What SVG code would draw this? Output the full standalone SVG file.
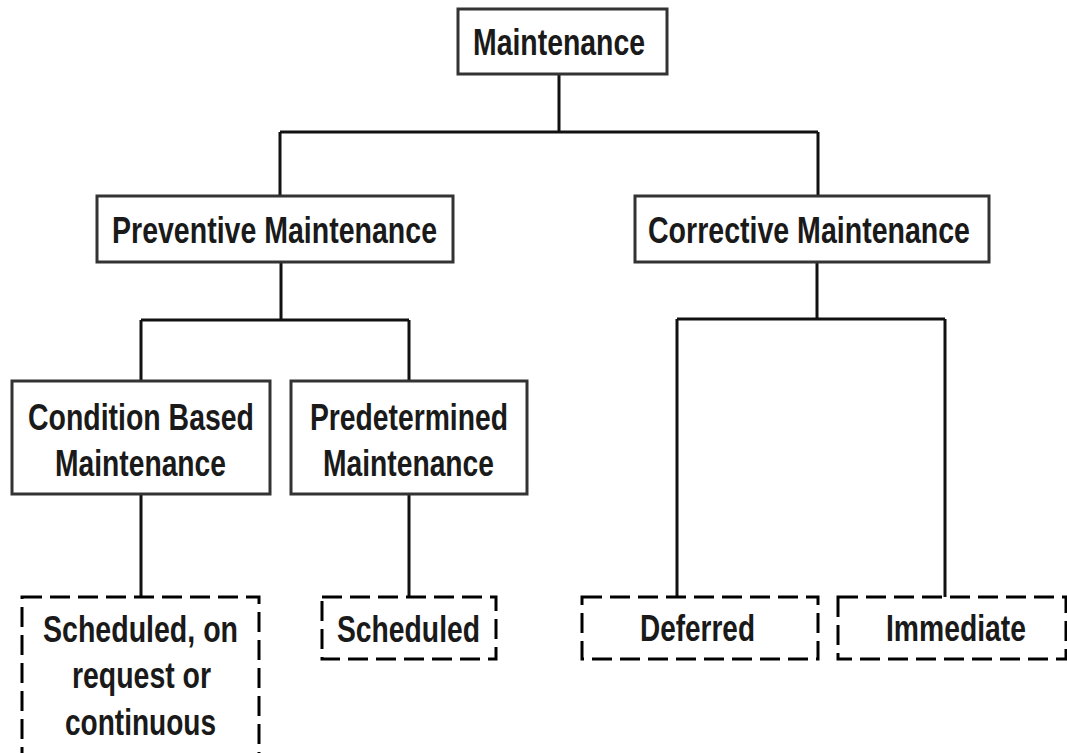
<svg xmlns="http://www.w3.org/2000/svg" width="1067" height="753" viewBox="0 0 1067 753">
<style>
.box{fill:#fff;stroke:#333;stroke-width:3}
.dbox{fill:#fff;stroke:#000;stroke-width:3;stroke-dasharray:20 8}
.ln{fill:none;stroke:#111;stroke-width:3}
text{font-family:"Liberation Sans",Arial,sans-serif;font-weight:bold;font-size:37px;fill:#1a1a1a;text-anchor:start}
</style>
<rect width="1067" height="753" fill="#fff"/>
<g id="connectors">
<path class="ln" d="M559 74V132M280 132H818M280 132V196M818 132V196"/>
<path class="ln" d="M281 262V320M141 320H409M141 320V381M409 320V381"/>
<path class="ln" d="M817 262V319M677 319H945M677 319V597M945 319V597"/>
<path class="ln" d="M141 494V597M409 494V597"/>
</g>
<g id="n-maintenance">
<rect class="box" x="458" y="9" width="209" height="65"/>
<text x="473" y="55" textLength="172" lengthAdjust="spacingAndGlyphs">Maintenance</text>
</g>
<g id="n-preventive">
<rect class="box" x="97" y="196" width="356" height="66"/>
<text x="112" y="243" textLength="325" lengthAdjust="spacingAndGlyphs">Preventive Maintenance</text>
</g>
<g id="n-corrective">
<rect class="box" x="635" y="196" width="354" height="66"/>
<text x="648" y="243" textLength="322" lengthAdjust="spacingAndGlyphs">Corrective Maintenance</text>
</g>
<g id="n-condition">
<rect class="box" x="12" y="381" width="258" height="113"/>
<text x="28" y="430" textLength="226" lengthAdjust="spacingAndGlyphs">Condition Based</text>
<text x="55" y="476" textLength="171" lengthAdjust="spacingAndGlyphs">Maintenance</text>
</g>
<g id="n-predetermined">
<rect class="box" x="291" y="381" width="236" height="113"/>
<text x="310" y="430" textLength="198" lengthAdjust="spacingAndGlyphs">Predetermined</text>
<text x="323" y="476" textLength="171" lengthAdjust="spacingAndGlyphs">Maintenance</text>
</g>
<g id="n-sched-on">
<rect class="dbox" x="22" y="597" width="237" height="170"/>
<text x="43" y="642" textLength="195" lengthAdjust="spacingAndGlyphs">Scheduled, on</text>
<text x="72" y="688" textLength="139" lengthAdjust="spacingAndGlyphs">request or</text>
<text x="65" y="735" textLength="151" lengthAdjust="spacingAndGlyphs">continuous</text>
</g>
<g id="n-scheduled">
<rect class="dbox" x="322" y="597" width="174" height="62"/>
<text x="337" y="642" textLength="143" lengthAdjust="spacingAndGlyphs">Scheduled</text>
</g>
<g id="n-deferred">
<rect class="dbox" x="582" y="597" width="236" height="62"/>
<text x="640" y="641" textLength="115" lengthAdjust="spacingAndGlyphs">Deferred</text>
</g>
<g id="n-immediate">
<rect class="dbox" x="838" y="597" width="228" height="62"/>
<text x="886" y="641" textLength="140" lengthAdjust="spacingAndGlyphs">Immediate</text>
</g>
</svg>
